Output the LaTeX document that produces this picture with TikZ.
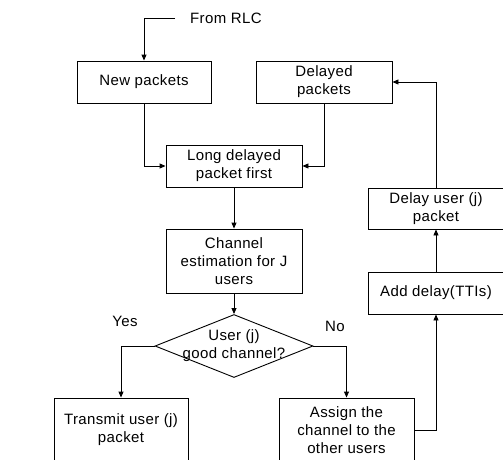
\documentclass[tikz,border=0pt]{standalone}
\usepackage{fontspec}
\setmainfont[LetterSpace=2.5]{Liberation Sans}
\usetikzlibrary{shapes.geometric,arrows.meta}
\begin{document}
\begin{tikzpicture}[x=1pt,y=-1pt,
  every node/.style={font=\fontsize{15}{18}\selectfont},
  box/.style={draw,rectangle,align=center,minimum width=136pt,minimum height=42pt,inner sep=2pt,line width=0.9pt},
  tallbox/.style={box,minimum height=64pt},
  decision/.style={draw,diamond,minimum width=158pt,minimum height=63pt,inner sep=0pt,line width=0.9pt},
  arr/.style={line width=0.9pt,-{Triangle[length=6pt,width=5pt]}},
  lbl/.style={inner sep=0pt}
]
\useasboundingbox (0,0) rectangle (503,459);
\clip (0,0) rectangle (503,459);
\node[lbl,anchor=west] (rlc) at (190,18) {From RLC};
\coordinate (rlcin) at (175,18);
\node[box,minimum width=134pt] (new) at (144,82) {New packets};
\node[box] (delayed) at (324,82) {Delayed\\packets};
\node[box] (long) at (234,166) {Long delayed\\packet first};
\node[tallbox] (chan) at (234,261) {Channel\\estimation for J\\users};
\node[decision] (dec) at (234,346) {};
\node[lbl,align=center] (dectext) at (dec.center) {User (j)\\good channel?};
\node[lbl] (yes) at (125,321) {Yes};
\node[lbl] (no) at (335,326) {No};
\node[tallbox,minimum width=134pt] (tx) at (121,430) {Transmit user (j)\\packet};
\node[tallbox,minimum width=135pt] (assign) at (346.5,430) {Assign the\\channel to the\\other users};
\node[box,minimum height=41pt] (delayuser) at (436,208.5) {Delay user (j)\\packet};
\node[box] (adddelay) at (436,293) {Add delay(TTIs)};
\draw[arr] (rlcin) -| (new.north);
\draw[arr] (new.south) |- (long.west);
\draw[arr] (delayed.south) |- (long.east);
\draw[arr] (long) -- (chan);
\draw[arr] (chan) -- (dec);
\draw[arr] (dec.west) -| (tx.north);
\draw[arr] (dec.east) -| (assign.north);
\draw[arr] (assign.east) -| (adddelay.south);
\draw[arr] (adddelay) -- (delayuser);
\draw[arr] (delayuser.north) |- (delayed.east);
\end{tikzpicture}
\end{document}
